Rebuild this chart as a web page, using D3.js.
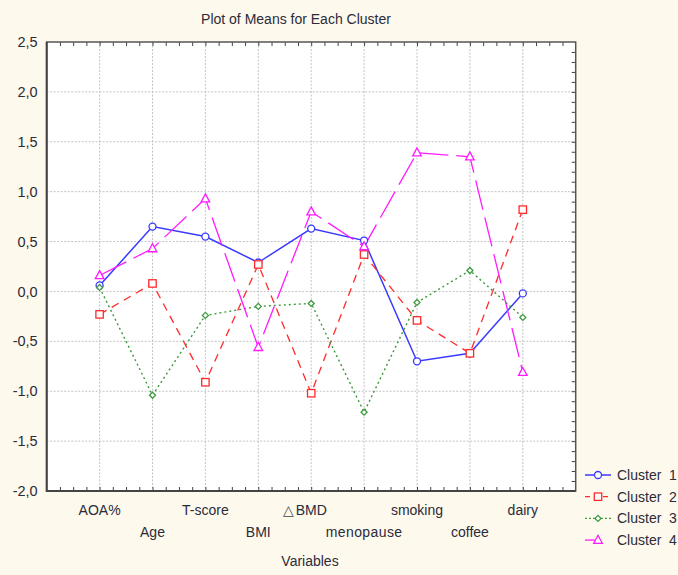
<!DOCTYPE html>
<html>
<head>
<meta charset="utf-8">
<script src="https://cdn.jsdelivr.net/npm/d3@7/dist/d3.min.js"></script>
<style>
  html, body { margin: 0; padding: 0; background: #fef9ed; }
  svg { display: block; font-family: "Liberation Sans", Arial, sans-serif; }
</style>
</head>
<body>
<svg id="chart" width="678" height="575"></svg>
<script>
// Variables on the horizontal axis (staggered on two rows)
const variables = ["AOA%", "Age", "T-score", "BMI", "△ BMD", "menopause", "smoking", "coffee", "dairy"];

// Cluster means (standardised)
const cluster1 = [0.06, 0.65, 0.55, 0.29, 0.63, 0.51, -0.70, -0.62, -0.02];
const cluster2 = [-0.23, 0.08, -0.91, 0.27, -1.02, 0.37, -0.29, -0.62, 0.82];
const cluster3 = [0.04, -1.04, -0.24, -0.15, -0.12, -1.21, -0.11, 0.21, -0.26];
const cluster4 = [0.16, 0.43, 0.93, -0.56, 0.80, 0.45, 1.39, 1.35, -0.81];

const seriesNames = ["Cluster  1", "Cluster  2", "Cluster  3", "Cluster  4"];
const yTicks = [-2.0, -1.5, -1.0, -0.5, 0.0, 0.5, 1.0, 1.5, 2.0, 2.5];

const styles = [
  { color: "#3a3aff", dash: null, width: 1.5, marker: "circle" },
  { color: "#ff2a2a", dash: "8,6", width: 1.3, marker: "square" },
  { color: "#3c9a3c", dash: "2,3", width: 1.4, marker: "diamond" },
  { color: "#ff1aff", dash: "30,8", width: 1.3, marker: "triangle" }
];

const series = [cluster1, cluster2, cluster3, cluster4].map((vals, i) => ({
  name: seriesNames[i],
  values: vals,
  style: styles[i]
}));

const svg = d3.select("#chart");
const plotL = 46.7, plotR = 575.7, plotT = 42, plotB = 491;

const x = d3.scaleLinear().domain([0, 10]).range([plotL, plotR]);
const y = d3.scaleLinear().domain([-2, 2.5]).range([plotB, plotT]);

// Plot background
svg.append("rect")
  .attr("x", plotL).attr("y", plotT)
  .attr("width", plotR - plotL).attr("height", plotB - plotT)
  .attr("fill", "#ffffff");

// Grid lines
const grid = svg.append("g").attr("stroke", "#c4c4c4").attr("stroke-width", 1)
  .attr("stroke-dasharray", "2,1.5");
grid.selectAll("line.v").data(d3.range(1, 10)).join("line")
  .attr("x1", d => x(d)).attr("x2", d => x(d))
  .attr("y1", plotT).attr("y2", plotB);
grid.selectAll("line.h").data(yTicks.filter(t => t > -2 && t < 2.5)).join("line")
  .attr("x1", plotL).attr("x2", plotR)
  .attr("y1", d => y(d)).attr("y2", d => y(d));

// Minor ticks: top and bottom every quarter category, right every 0.1
const quarter = d3.range(1, 40).map(d => d / 4);
const tickColor = "#444";
svg.append("g")
  .attr("transform", `translate(0,${plotT})`)
  .call(d3.axisTop(x).tickValues(quarter).tickSize(-4).tickFormat(""))
  .call(g => g.select(".domain").remove())
  .selectAll("line").attr("stroke", tickColor);
svg.append("g")
  .attr("transform", `translate(0,${plotB})`)
  .call(d3.axisBottom(x).tickValues(quarter).tickSize(-4).tickFormat(""))
  .call(g => g.select(".domain").remove())
  .selectAll("line").attr("stroke", tickColor);
svg.append("g")
  .attr("transform", `translate(${plotR},0)`)
  .call(d3.axisRight(y).tickValues(d3.range(-19, 25).map(d => d / 10)).tickSize(-4).tickFormat(""))
  .call(g => g.select(".domain").remove())
  .selectAll("line").attr("stroke", tickColor);

// Y axis labels (comma decimal)
const fmt = d => d3.format(".1f")(d).replace(".", ",").replace("−", "-");
svg.append("g")
  .attr("transform", `translate(${plotL},0)`)
  .call(d3.axisLeft(y).tickValues(yTicks).tickSize(0).tickPadding(9).tickFormat(fmt))
  .call(g => g.select(".domain").remove())
  .selectAll("text")
  .attr("font-size", 14.5).attr("fill", "#2b2b3a")
  .attr("font-family", "'Liberation Sans', Arial, sans-serif");

// Frame
svg.append("rect")
  .attr("x", plotL).attr("y", plotT)
  .attr("width", plotR - plotL).attr("height", plotB - plotT)
  .attr("fill", "none").attr("stroke", "#555").attr("stroke-width", 1.5);
svg.append("path")
  .attr("d", `M${plotL},${plotT}V${plotB}H${plotR}`)
  .attr("fill", "none").attr("stroke", "#444").attr("stroke-width", 2);

// Series lines
const line = d3.line().x((d, i) => x(i + 1)).y(d => y(d));
const plot = svg.append("g");
series.forEach(s => {
  plot.append("path")
    .datum(s.values)
    .attr("d", line)
    .attr("fill", "none")
    .attr("stroke", s.style.color)
    .attr("stroke-width", s.style.width)
    .attr("stroke-dasharray", s.style.dash);
});

// Markers
function marker(g, type, cx, cy, color) {
  let el;
  if (type === "circle") {
    el = g.append("circle").attr("cx", cx).attr("cy", cy).attr("r", 3.5);
  } else if (type === "square") {
    el = g.append("rect").attr("x", cx - 3.7).attr("y", cy - 3.7).attr("width", 7.4).attr("height", 7.4);
  } else if (type === "diamond") {
    el = g.append("path").attr("d", `M${cx},${cy - 3}L${cx + 3},${cy}L${cx},${cy + 3}L${cx - 3},${cy}Z`);
  } else {
    el = g.append("path").attr("d", `M${cx},${cy - 4.8}L${cx + 4.3},${cy + 3.2}L${cx - 4.3},${cy + 3.2}Z`);
  }
  el.attr("fill", "#fff").attr("stroke", color).attr("stroke-width", 1.3);
}
series.forEach(s => {
  s.values.forEach((v, i) => marker(plot, s.style.marker, x(i + 1), y(v), s.style.color));
});

// X category labels, staggered on two rows
const xl = svg.append("g").attr("font-size", 14).attr("fill", "#2b2b3a");
variables.forEach((name, i) => {
  const row = i % 2 === 0 ? 515 : 537;
  const parts = name.split(" ");
  const word = parts[parts.length - 1];
  const t = xl.append("text")
    .attr("x", x(i + 1)).attr("y", row)
    .attr("text-anchor", "middle")
    .attr("letter-spacing", name === "menopause" ? 0.4 : 0)
    .text(word);
  if (parts.length > 1) {
    const w = t.node().getComputedTextLength();
    xl.append("text")
      .attr("x", x(i + 1) - w / 2 - 2).attr("y", row)
      .attr("text-anchor", "end")
      .attr("fill", "#444")
      .text(parts[0]);
  }
});

// Axis title and chart title
svg.append("text")
  .attr("x", 310).attr("y", 566)
  .attr("text-anchor", "middle")
  .attr("font-size", 14).attr("fill", "#2b2b3a")
  .text("Variables");
svg.append("text")
  .attr("x", 296).attr("y", 24)
  .attr("text-anchor", "middle")
  .attr("font-size", 14).attr("fill", "#2b2b3a")
  .text("Plot of Means for Each Cluster");

// Legend
const legend = svg.append("g");
series.forEach((s, i) => {
  const ly = 475 + i * 21.7;
  const lg = legend.append("g");
  lg.append("line")
    .attr("x1", 585).attr("x2", i === 3 ? 597 : 611)
    .attr("y1", ly).attr("y2", ly)
    .attr("stroke", s.style.color)
    .attr("stroke-width", s.style.width)
    .attr("stroke-dasharray", i === 1 ? "5,4" : i === 2 ? "2,2" : null);
  marker(lg, s.style.marker, 598, ly, s.style.color);
  lg.append("text")
    .attr("x", 617).attr("y", ly + 5)
    .attr("font-size", 14).attr("fill", "#2b2b3a")
    .attr("xml:space", "preserve")
    .style("white-space", "pre")
    .text(s.name);
});
</script>
</body>
</html>
